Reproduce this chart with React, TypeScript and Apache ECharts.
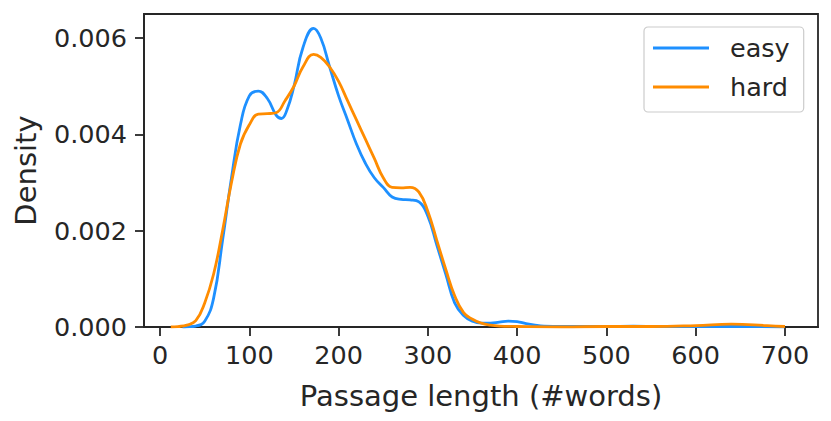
import React, { useEffect, useRef } from "react";
import * as echarts from "echarts";

const easyX = [25, 30, 40, 50, 60, 70, 80, 90, 100, 110, 120, 130, 136, 142, 150, 160, 172, 180, 190, 200, 210, 220, 230, 240, 250, 260, 270, 280, 290, 300, 310, 320, 330, 340, 350, 360, 370, 380, 390, 400, 410, 420, 430, 450, 500, 530, 560, 600, 650, 700];
const easyY = [0, 0.000005, 0.00002, 0.00012, 0.0006, 0.0018, 0.0031, 0.0042, 0.0048, 0.0049, 0.00475, 0.0044, 0.00433, 0.0045, 0.005, 0.0058, 0.0062, 0.006, 0.0054, 0.0048, 0.0043, 0.0038, 0.0034, 0.0031, 0.0029, 0.0027, 0.00265, 0.00264, 0.0026, 0.0023, 0.0017, 0.0011, 0.0005, 0.00024, 0.00012, 0.00008, 0.00008, 0.0001, 0.00012, 0.00011, 0.00007, 0.00004, 0.00002, 0.00001, 0.00001, 0.00002, 0.00001, 0.00001, 0.00001, 0];

const hardX = [12, 20, 30, 40, 50, 60, 70, 80, 90, 100, 110, 120, 130, 140, 150, 160, 172, 180, 190, 200, 210, 220, 230, 240, 250, 260, 270, 280, 290, 300, 310, 320, 330, 340, 350, 360, 370, 380, 400, 450, 500, 550, 600, 640, 680, 700];
const hardY = [0, 0.00001, 0.00004, 0.00013, 0.0005, 0.0011, 0.002, 0.003, 0.0038, 0.0042, 0.00442, 0.00443, 0.00445, 0.0047, 0.005, 0.0054, 0.00566, 0.0056, 0.0054, 0.0051, 0.0047, 0.0043, 0.0039, 0.0035, 0.0031, 0.0029, 0.00289, 0.0029, 0.0028, 0.0024, 0.0018, 0.0012, 0.00065, 0.0003, 0.00016, 0.00008, 0.00004, 0.00002, 0.00001, 0, 0.00001, 0.00001, 0.00003, 0.00006, 0.00003, 0.00001];

const xTicks = [0, 100, 200, 300, 400, 500, 600, 700];
const yTicks = [0, 0.002, 0.004, 0.006];

const seriesNames = ["easy", "hard"];
const seriesColors = ["#1E90FF", "#FF8C00"];

const TEXT = "#262626";
const FONT = "DejaVu Sans";

export default function App() {
  const ref = useRef<HTMLDivElement>(null);
  useEffect(() => {
    document.body.style.margin = "0";
    const chart = echarts.init(ref.current!, null, { renderer: "svg" });
    const pairs = (xs: number[], ys: number[]) => xs.map((x, i) => [x, ys[i]]);
    chart.setOption({
      animation: false,
      backgroundColor: "#ffffff",
      textStyle: { fontFamily: FONT, color: TEXT },
      grid: {
        left: 144,
        top: 14,
        width: 674,
        height: 313,
        show: true,
        borderColor: TEXT,
        borderWidth: 1.8,
        backgroundColor: "transparent",
      },
      legend: {
        left: 644,
        top: 27,
        orient: "vertical",
        data: seriesNames.map((n) => ({ name: n, icon: "rect" })),
        itemWidth: 56,
        itemHeight: 3,
        itemGap: 13,
        padding: [8, 14, 12, 9],
        borderColor: "#cccccc",
        borderWidth: 1.2,
        borderRadius: 4,
        textStyle: {
          fontFamily: FONT,
          fontSize: 25.5,
          color: TEXT,
          lineHeight: 26,
          padding: [0, 0, 0, 16],
        },
      },
      xAxis: {
        type: "value",
        min: -18,
        max: 737,
        name: "Passage length (#words)",
        nameLocation: "middle",
        nameGap: 54,
        nameTextStyle: { fontFamily: FONT, fontSize: 29, color: TEXT },
        axisLine: { show: true, onZero: false, lineStyle: { color: TEXT, width: 1.8 } },
        axisTick: {
          show: true,
          inside: false,
          length: 9,
          customValues: xTicks,
          lineStyle: { color: TEXT, width: 1.8 },
        },
        axisLabel: {
          customValues: xTicks,
          fontFamily: FONT,
          fontSize: 25.5,
          color: TEXT,
          margin: 15,
        },
        splitLine: { show: false },
      },
      yAxis: {
        type: "value",
        position: "left",
        min: 0,
        max: 0.0065,
        name: "Density",
        nameLocation: "middle",
        nameGap: 104,
        nameTextStyle: { fontFamily: FONT, fontSize: 29, color: TEXT },
        axisLine: { show: true, onZero: false, lineStyle: { color: TEXT, width: 1.8 } },
        axisTick: {
          show: true,
          inside: false,
          length: 9,
          customValues: yTicks,
          lineStyle: { color: TEXT, width: 1.8 },
        },
        axisLabel: {
          customValues: yTicks,
          formatter: (v: number) => v.toFixed(3),
          fontFamily: FONT,
          fontSize: 25.5,
          color: TEXT,
          margin: 17,
        },
        splitLine: { show: false },
      },
      series: [
        {
          name: seriesNames[0],
          type: "line",
          data: pairs(easyX, easyY),
          showSymbol: false,
          symbol: "none",
          smooth: 0.45,
          lineStyle: { color: seriesColors[0], width: 2.8 },
          itemStyle: { color: seriesColors[0] },
          z: 3,
        },
        {
          name: seriesNames[1],
          type: "line",
          data: pairs(hardX, hardY),
          showSymbol: false,
          symbol: "none",
          smooth: 0.45,
          lineStyle: { color: seriesColors[1], width: 2.8 },
          itemStyle: { color: seriesColors[1] },
          z: 4,
        },
      ],
    });
    return () => chart.dispose();
  }, []);
  return (
    <div
      ref={ref}
      style={{ position: "fixed", left: 0, top: 0, width: 831, height: 421 }}
    />
  );
}
